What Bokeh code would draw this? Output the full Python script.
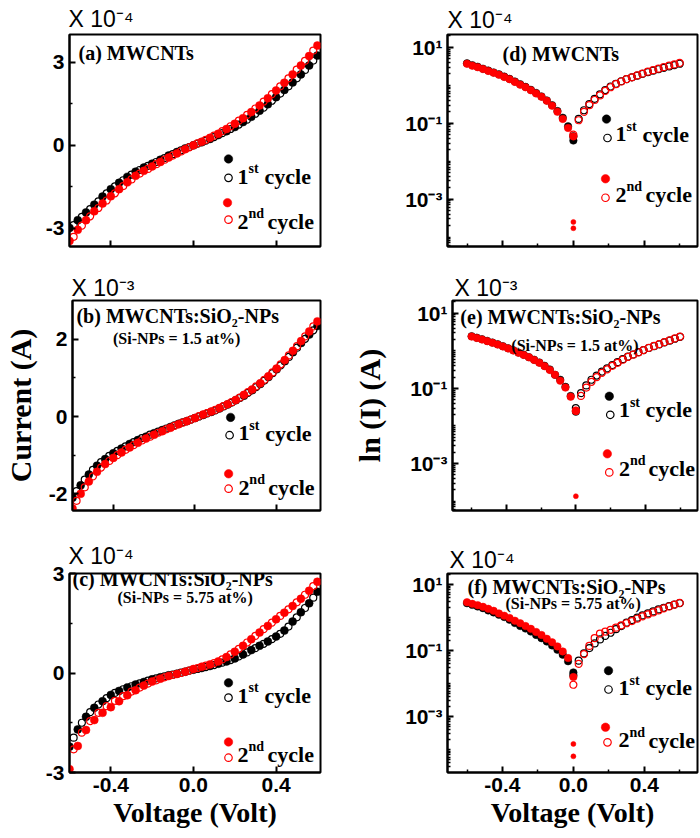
import math
from bokeh.plotting import figure
from bokeh.layouts import column, row
from bokeh.models import FixedTicker, CustomJSTickFormatter, Label, Range1d
from bokeh.embed import file_html
from bokeh.resources import INLINE

# ------------------------------------------------------------------ data
# voltage grids (V)
V_FILLED = [-0.60, -0.56, -0.52, -0.48, -0.44, -0.40, -0.36, -0.32, -0.28, -0.24, -0.20,
            -0.16, -0.12, -0.08, -0.04, 0.00, 0.04, 0.08, 0.12, 0.16, 0.20, 0.24, 0.28,
            0.32, 0.36, 0.40, 0.44, 0.48, 0.52, 0.56, 0.60]
V_OPEN = [-0.58, -0.54, -0.50, -0.46, -0.42, -0.38, -0.34, -0.30, -0.26, -0.22, -0.18,
          -0.14, -0.10, -0.06, -0.02, 0.02, 0.06, 0.10, 0.14, 0.18, 0.22, 0.26, 0.30,
          0.34, 0.38, 0.42, 0.46, 0.50, 0.54, 0.58]
V_NEG = [-0.60, -0.57, -0.54, -0.51, -0.48, -0.45, -0.42, -0.39, -0.36, -0.33, -0.30,
         -0.27, -0.24, -0.21, -0.18, -0.15, -0.12, -0.09, -0.06, -0.03, 0.00]
V_POS = [0.00, 0.03, 0.06, 0.09, 0.12, 0.15, 0.18, 0.21, 0.24, 0.27, 0.30, 0.33, 0.36,
         0.39, 0.42, 0.45, 0.48, 0.51, 0.54, 0.57, 0.60]

# (a) MWCNTs, current in units of 1e-4 A
A_C1_FILLED = [-2.98, -2.70, -2.42, -2.14, -1.85, -1.58, -1.35, -1.14, -0.95, -0.80, -0.66,
               -0.52, -0.37, -0.24, -0.11, 0.00, 0.11, 0.23, 0.37, 0.51, 0.66, 0.84, 1.03,
               1.25, 1.48, 1.74, 2.00, 2.27, 2.56, 2.88, 3.24]
A_C1_OPEN = [-2.88, -2.58, -2.30, -2.02, -1.73, -1.48, -1.26, -1.06, -0.89, -0.74, -0.60,
             -0.46, -0.32, -0.18, -0.06, 0.06, 0.17, 0.30, 0.44, 0.59, 0.75, 0.93, 1.14,
             1.36, 1.61, 1.87, 2.13, 2.42, 2.72, 3.06]
A_C2_FILLED = [-3.45, -3.05, -2.70, -2.38, -2.10, -1.84, -1.58, -1.33, -1.10, -0.92, -0.76,
               -0.60, -0.44, -0.29, -0.14, 0.00, 0.13, 0.27, 0.42, 0.59, 0.78, 0.98, 1.20,
               1.44, 1.70, 1.98, 2.26, 2.56, 2.88, 3.22, 3.60]
A_C2_OPEN = [-3.30, -2.90, -2.56, -2.26, -1.99, -1.73, -1.47, -1.23, -1.02, -0.85, -0.68,
             -0.52, -0.37, -0.22, -0.07, 0.07, 0.20, 0.35, 0.51, 0.69, 0.89, 1.10, 1.33,
             1.58, 1.85, 2.13, 2.42, 2.73, 3.05, 3.42]

# (b) Si-NPs 1.5 at%, units of 1e-3 A
B_C1_FILLED = [-2.10, -1.78, -1.50, -1.27, -1.10, -0.95, -0.83, -0.71, -0.61, -0.52, -0.43,
               -0.35, -0.27, -0.19, -0.12, -0.04, 0.04, 0.12, 0.21, 0.31, 0.42, 0.54, 0.68,
               0.84, 1.02, 1.22, 1.43, 1.66, 1.90, 2.12, 2.34]
B_C1_OPEN = [-1.93, -1.63, -1.38, -1.18, -1.02, -0.89, -0.77, -0.66, -0.56, -0.47, -0.39,
             -0.31, -0.23, -0.15, -0.08, 0.00, 0.08, 0.16, 0.26, 0.36, 0.48, 0.61, 0.76,
             0.93, 1.12, 1.32, 1.54, 1.78, 2.01, 2.23]
B_C2_FILLED = [-2.38, -2.00, -1.68, -1.43, -1.23, -1.07, -0.93, -0.80, -0.68, -0.57, -0.47,
               -0.38, -0.29, -0.20, -0.12, -0.04, 0.05, 0.13, 0.22, 0.32, 0.43, 0.56, 0.70,
               0.86, 1.04, 1.24, 1.46, 1.70, 1.95, 2.20, 2.46]
B_C2_OPEN = [-2.18, -1.83, -1.55, -1.32, -1.15, -1.00, -0.86, -0.74, -0.62, -0.52, -0.42,
             -0.33, -0.24, -0.16, -0.08, 0.01, 0.09, 0.17, 0.27, 0.37, 0.49, 0.63, 0.78,
             0.95, 1.14, 1.35, 1.58, 1.82, 2.07, 2.33]

# (c) Si-NPs 5.75 at%, units of 1e-4 A
C_C1_FILLED = [-2.22, -1.70, -1.32, -1.05, -0.85, -0.66, -0.54, -0.44, -0.35, -0.27, -0.19,
               -0.13, -0.07, -0.02, 0.04, 0.10, 0.15, 0.21, 0.28, 0.35, 0.44, 0.56, 0.69,
               0.82, 0.95, 1.10, 1.28, 1.55, 1.83, 2.10, 2.45]
C_C1_OPEN = [-1.95, -1.50, -1.18, -0.95, -0.76, -0.60, -0.49, -0.40, -0.31, -0.23, -0.16,
             -0.10, -0.05, 0.01, 0.07, 0.12, 0.18, 0.24, 0.31, 0.39, 0.50, 0.62, 0.75,
             0.88, 1.02, 1.18, 1.40, 1.68, 1.96, 2.27]
C_C2_FILLED = [-2.90, -2.20, -1.72, -1.42, -1.20, -1.03, -0.85, -0.67, -0.52, -0.38, -0.26,
               -0.17, -0.09, -0.03, 0.04, 0.12, 0.19, 0.26, 0.35, 0.48, 0.64, 0.82, 1.02,
               1.22, 1.42, 1.62, 1.82, 2.02, 2.24, 2.48, 2.75]
C_C2_OPEN = [-2.30, -1.80, -1.45, -1.20, -1.00, -0.84, -0.70, -0.56, -0.44, -0.32, -0.22,
             -0.13, -0.06, 0.00, 0.07, 0.15, 0.22, 0.30, 0.41, 0.56, 0.73, 0.92, 1.12,
             1.32, 1.52, 1.72, 1.92, 2.13, 2.36, 2.62]

# (d) |I| log, units of 1e-4 A
D_C1_NEG = [3.80, 3.39, 3.09, 2.75, 2.45, 2.19, 1.95, 1.70, 1.48, 1.26, 1.07, 0.91, 0.76,
            0.63, 0.51, 0.40, 0.30, 0.21, 0.14, 0.083, 0.035]
D_C2_NEG = [3.70, 3.30, 3.00, 2.68, 2.40, 2.14, 1.90, 1.66, 1.45, 1.23, 1.04, 0.89, 0.74,
            0.61, 0.50, 0.39, 0.29, 0.20, 0.13, 0.075, 0.045]
D_C1_POS = [0.045, 0.13, 0.22, 0.32, 0.44, 0.58, 0.75, 0.93, 1.10, 1.28, 1.46, 1.62, 1.80,
            2.00, 2.22, 2.43, 2.66, 2.90, 3.15, 3.40, 3.70]
D_C2_POS = [0.050, 0.12, 0.20, 0.30, 0.41, 0.54, 0.71, 0.89, 1.07, 1.26, 1.45, 1.62, 1.82,
            2.04, 2.29, 2.51, 2.75, 3.02, 3.31, 3.55, 3.89]
D_SPIKE_V = [0.0, 0.0]
D_SPIKE_I = [0.00025, 0.00017]

# (e) |I| log, units of 1e-3 A
E_C1_NEG = [2.45, 2.24, 2.04, 1.84, 1.66, 1.50, 1.33, 1.17, 1.04, 0.90, 0.79, 0.68, 0.58,
            0.49, 0.40, 0.32, 0.23, 0.17, 0.11, 0.063, 0.024]
E_C2_NEG = [2.40, 2.20, 2.00, 1.81, 1.64, 1.47, 1.31, 1.16, 1.02, 0.89, 0.78, 0.67, 0.57,
            0.48, 0.39, 0.31, 0.23, 0.16, 0.105, 0.060, 0.026]
E_C1_POS = [0.030, 0.075, 0.12, 0.17, 0.22, 0.28, 0.34, 0.42, 0.50, 0.60, 0.70, 0.80, 0.92,
            1.05, 1.19, 1.33, 1.49, 1.67, 1.87, 2.10, 2.35]
E_C2_POS = [0.025, 0.063, 0.105, 0.15, 0.20, 0.26, 0.32, 0.40, 0.48, 0.58, 0.69, 0.79, 0.91,
            1.05, 1.20, 1.35, 1.51, 1.70, 1.91, 2.14, 2.40]
E_SPIKE_V = [0.0]
E_SPIKE_I = [0.000135]

# (f) |I| log, units of 1e-4 A
F_C1_NEG = [2.75, 2.45, 2.19, 1.95, 1.66, 1.45, 1.23, 1.05, 0.87, 0.69, 0.56, 0.47, 0.38,
            0.30, 0.24, 0.19, 0.145, 0.107, 0.076, 0.048, 0.022]
F_C2_NEG = [2.95, 2.63, 2.40, 2.14, 1.86, 1.62, 1.35, 1.15, 0.98, 0.81, 0.68, 0.56, 0.46,
            0.37, 0.30, 0.23, 0.18, 0.135, 0.095, 0.060, 0.016]
F_C1_POS = [0.018, 0.050, 0.083, 0.12, 0.166, 0.22, 0.28, 0.35, 0.45, 0.56, 0.71, 0.85, 1.00,
            1.17, 1.35, 1.55, 1.78, 2.00, 2.24, 2.51, 2.75]
F_C2_POS = [0.0093, 0.040, 0.079, 0.14, 0.24, 0.33, 0.38, 0.43, 0.50, 0.59, 0.68, 0.79, 0.93,
            1.10, 1.26, 1.45, 1.66, 1.91, 2.19, 2.51, 2.82]
F_SPIKE_V = [0.0, 0.0]
F_SPIKE_I = [0.00015, 0.000063]

# text
TITLES = {"a": "(a) MWCNTs", "b": "(b) MWCNTs:SiO\u2082-NPs", "c": "(c) MWCNTs:SiO\u2082-NPs",
          "d": "(d) MWCNTs", "e": "(e) MWCNTs:SiO\u2082-NPs", "f": "(f) MWCNTs:SiO\u2082-NPs"}
SUBTITLES = {"b": "(Si-NPs = 1.5 at%)", "c": "(Si-NPs = 5.75 at%)",
             "e": "(Si-NPs = 1.5 at%)", "f": "(Si-NPs = 5.75 at%)"}
MULTIPLIERS = {"a": "X 10\u207b\u2074", "b": "X 10\u207b\u00b3", "c": "X 10\u207b\u2074",
               "d": "X 10\u207b\u2074", "e": "X 10\u207b\u00b3", "f": "X 10\u207b\u2074"}
LEGEND_1 = ("1", "st", "cycle")
LEGEND_2 = ("2", "nd", "cycle")
X_LABEL = "Voltage (Volt)"
Y_LABEL_LEFT = "Current (A)"
Y_LABEL_RIGHT = "ln (I) (A)"

# ticks
X_MAJOR = [-0.4, 0.0, 0.4]
X_MINOR_LOG = [-0.6, -0.2, 0.2, 0.6]
LIN_MAJOR = {"a": [-3, 0, 3], "b": [-2, 0, 2], "c": [-3, 0, 3]}
LIN_MINOR = {"a": [-1.5, 1.5], "b": [-1, 1], "c": [-1.5, 1.5]}
LOG_MAJOR = [10.0, 0.1, 0.001]
LOG_MINOR = [m * 10.0 ** k for k in range(-5, 2) for m in range(1, 10)
             if not (m == 1 and k in (1, -1, -3))]

# ------------------------------------------------------------------ layout / style
SERIF = "Liberation Serif"
SANS = "Liberation Sans"
BLACK = "#000000"
RED = "#ff0000"

X_RANGE_L = (-0.6, 0.615)
X_RANGE_R = (-0.71, 0.70)
Y_RANGE = {"a": (-3.65, 4.0), "b": (-2.43, 3.0), "c": (-3.0, 3.0),
           "d": (10 ** -4.25, 10 ** 1.34), "e": (10 ** -4.25, 10 ** 1.34),
           "f": (10 ** -4.69, 10 ** 1.34)}
# frame boxes of the reference picture (left, top, right, bottom), page pixels
REF_BOX = {"a": (69, 34, 320, 247), "b": (69, 298, 320, 510), "c": (69, 571, 320, 773),
           "d": (447, 33, 697, 246), "e": (447, 295, 697, 510), "f": (447, 561, 697, 772)}
# width, height, border left, right, top, bottom, title standoff, title offset
FIG = {"a": (350, 272, 69, 30, 34, 25, 5, -1), "b": (350, 264, 69, 30, 26, 26, 0, -1),
       "c": (350, 302, 69, 30, 35, 65, 9, -1),
       "d": (350, 272, 97, 3, 33, 26, 4, 0), "e": (350, 264, 97, 3, 25, 26, 0, 2),
       "f": (350, 302, 97, 3, 27, 66, 1, 2)}


def to_data(key, px, py):
    x0, y0, x1, y1 = REF_BOX[key]
    xr = X_RANGE_L if key in "abc" else X_RANGE_R
    yr = Y_RANGE[key]
    xd = xr[0] + (px - x0) / (x1 - x0) * (xr[1] - xr[0])
    t = (y1 - py) / (y1 - y0)
    if key in "def":
        lo, hi = math.log10(yr[0]), math.log10(yr[1])
        yd = 10 ** (lo + t * (hi - lo))
    else:
        yd = yr[0] + t * (yr[1] - yr[0])
    return xd, yd


def label(p, key, px, py, text, size, font=SERIF, style="bold", align="left",
          baseline="middle", color=BLACK):
    xd, yd = to_data(key, px, py)
    p.add_layout(Label(x=xd, y=yd, text=text, text_font=font, text_font_size=f"{size}px",
                       text_font_style=style, text_align=align, text_baseline=baseline,
                       text_color=color))


def make_fig(key):
    w, h, bl, br, bt, bb, tstand, toff = FIG[key]
    log = key in "def"
    xr = X_RANGE_L if key in "abc" else X_RANGE_R
    p = figure(width=w, height=h, x_range=Range1d(*xr), y_range=Range1d(*Y_RANGE[key]),
               y_axis_type="log" if log else "linear", output_backend="svg",
               toolbar_location=None, tools="", title=MULTIPLIERS[key],
               min_border_left=bl, min_border_right=br, min_border_top=bt,
               min_border_bottom=bb)
    p.title.align = "left"
    p.title.offset = toff
    p.title.standoff = tstand
    p.title.text_font = SANS
    p.title.text_font_style = "normal"
    p.title.text_font_size = "23px"
    p.title.text_color = BLACK
    p.background_fill_color = "white"
    p.border_fill_color = "white"
    p.outline_line_color = BLACK
    p.outline_line_width = 2
    p.outline_line_alpha = 1.0
    p.xgrid.visible = False
    p.ygrid.visible = False
    for ax in (p.xaxis[0], p.yaxis[0]):
        ax.axis_line_width = 2
        ax.major_tick_in = 6
        ax.major_tick_out = 0
        ax.minor_tick_in = 3
        ax.minor_tick_out = 0
        ax.major_tick_line_width = 2
        ax.minor_tick_line_width = 1.5
        ax.major_label_text_font = SANS
        ax.major_label_text_font_style = "bold"
        ax.major_label_text_font_size = "21px"
        ax.major_label_text_color = BLACK
        ax.axis_label_text_font = SERIF
        ax.axis_label_text_font_style = "bold"
        ax.axis_label_text_color = BLACK
    # x axis
    p.xaxis[0].ticker = FixedTicker(ticks=X_MAJOR, minor_ticks=X_MINOR_LOG if log else [])
    if key in "cf":
        p.xaxis[0].formatter = CustomJSTickFormatter(code="return tick.toFixed(1);")
        p.xaxis[0].major_label_standoff = 5
        p.xaxis[0].axis_label = X_LABEL
        p.xaxis[0].axis_label_text_font_size = "28px"
        p.xaxis[0].axis_label_standoff = 2
    else:
        p.xaxis[0].formatter = CustomJSTickFormatter(code="return '';")
        p.xaxis[0].major_label_text_font_size = "0px"
        p.xaxis[0].major_label_standoff = 0
    # y axis
    p.yaxis[0].major_label_standoff = 5
    if log:
        p.yaxis[0].ticker = FixedTicker(ticks=LOG_MAJOR, minor_ticks=LOG_MINOR)
        p.yaxis[0].formatter = CustomJSTickFormatter(code="""
            const e = Math.round(Math.log10(tick));
            const m = {"-": "\\u207b", "0": "\\u2070", "1": "\\u00b9", "2": "\\u00b2",
                       "3": "\\u00b3", "4": "\\u2074", "5": "\\u2075"};
            let s = "";
            for (const c of String(e)) { s += m[c]; }
            return "10" + s;
        """)
    else:
        p.yaxis[0].ticker = FixedTicker(ticks=LIN_MAJOR[key], minor_ticks=LIN_MINOR[key])
        p.yaxis[0].formatter = CustomJSTickFormatter(code="return tick.toFixed(0);")
    if key == "b":
        p.yaxis[0].axis_label = Y_LABEL_LEFT
        p.yaxis[0].axis_label_text_font_size = "30px"
        p.yaxis[0].axis_label_standoff = 9
    if key == "e":
        p.yaxis[0].axis_label = Y_LABEL_RIGHT
        p.yaxis[0].axis_label_text_font_size = "30px"
        p.yaxis[0].axis_label_standoff = 21
    return p


MS = 8
MS_OPEN = 7
LW = 1.2


def filled(p, x, y, color, size=MS):
    p.scatter(x, y, marker="circle", size=size, fill_color=color, line_color=color,
              line_width=0.5)


def hollow(p, x, y, color, size=MS_OPEN):
    p.scatter(x, y, marker="circle", size=size, fill_color=None, line_color=color,
              line_width=LW)


def decorate(p, key, leg):
    tx, ty = {"a": (78, 53), "b": (73, 314), "c": (72, 577),
              "d": (502, 53), "e": (455, 312), "f": (467, 575)}[key]
    label(p, key, tx, ty, TITLES[key], 20)
    if key in SUBTITLES:
        sx, sy = {"b": (110, 336), "c": (117, 595), "e": (507, 341), "f": (505, 593)}[key]
        label(p, key, sx, sy, SUBTITLES[key], 16)
    bf, bo, t1, rf, ro, t2 = leg
    for (px, py), col, is_filled in ((bf, BLACK, True), (bo, BLACK, False),
                                     (rf, RED, True), (ro, RED, False)):
        xd, yd = to_data(key, px, py)
        if is_filled:
            filled(p, [xd], [yd], col, size=8.5)
        else:
            hollow(p, [xd], [yd], col, size=7.5)
    for (px, py), parts, gap in ((t1, LEGEND_1, 27), (t2, LEGEND_2, 30)):
        label(p, key, px, py, parts[0], 22, baseline="alphabetic")
        label(p, key, px + 11, py - 8, parts[1], 14, baseline="alphabetic")
        label(p, key, px + gap, py, parts[2], 22, baseline="alphabetic")


LEGENDS = {
    "a": ((228, 159), (228, 178), (237, 177), (227, 203), (228, 220), (237, 222)),
    "b": ((229, 416), (228, 434), (237, 432), (227, 473), (227, 488), (237, 487)),
    "c": ((228, 682), (228, 697), (237, 695), (228, 742), (228, 758), (237, 755)),
    "d": ((606, 118), (607, 137), (615, 133), (605, 178), (605, 197), (615, 194)),
    "e": ((607, 393), (608, 412), (617, 407), (605, 452), (607, 471), (617, 467)),
    "f": ((608, 664), (608, 684), (618, 682), (605, 724), (607, 740), (618, 738)),
}

figs = {}
LIN_DATA = {"a": (A_C1_FILLED, A_C1_OPEN, A_C2_FILLED, A_C2_OPEN),
            "b": (B_C1_FILLED, B_C1_OPEN, B_C2_FILLED, B_C2_OPEN),
            "c": (C_C1_FILLED, C_C1_OPEN, C_C2_FILLED, C_C2_OPEN)}
LOG_DATA = {"d": (D_C1_NEG, D_C1_POS, D_C2_NEG, D_C2_POS, D_SPIKE_V, D_SPIKE_I),
            "e": (E_C1_NEG, E_C1_POS, E_C2_NEG, E_C2_POS, E_SPIKE_V, E_SPIKE_I),
            "f": (F_C1_NEG, F_C1_POS, F_C2_NEG, F_C2_POS, F_SPIKE_V, F_SPIKE_I)}

for key, (c1f, c1o, c2f, c2o) in LIN_DATA.items():
    p = make_fig(key)
    filled(p, V_FILLED, c1f, BLACK)
    hollow(p, V_OPEN, c1o, BLACK)
    filled(p, V_FILLED, c2f, RED)
    hollow(p, V_OPEN, c2o, RED)
    decorate(p, key, LEGENDS[key])
    figs[key] = p

for key, (c1n, c1p, c2n, c2p, sv, si) in LOG_DATA.items():
    p = make_fig(key)
    filled(p, V_NEG, c1n, BLACK, size=7.5)
    hollow(p, V_POS, c1p, BLACK, size=7)
    filled(p, V_NEG, c2n, RED, size=7.5)
    hollow(p, V_POS, c2p, RED, size=7)
    filled(p, sv, si, RED, size=5)
    decorate(p, key, LEGENDS[key])
    figs[key] = p

layout = column(row(figs["a"], figs["d"]), row(figs["b"], figs["e"]),
                row(figs["c"], figs["f"]))

open("out.html", "w").write(file_html(layout, INLINE, title="I-V curves"))
